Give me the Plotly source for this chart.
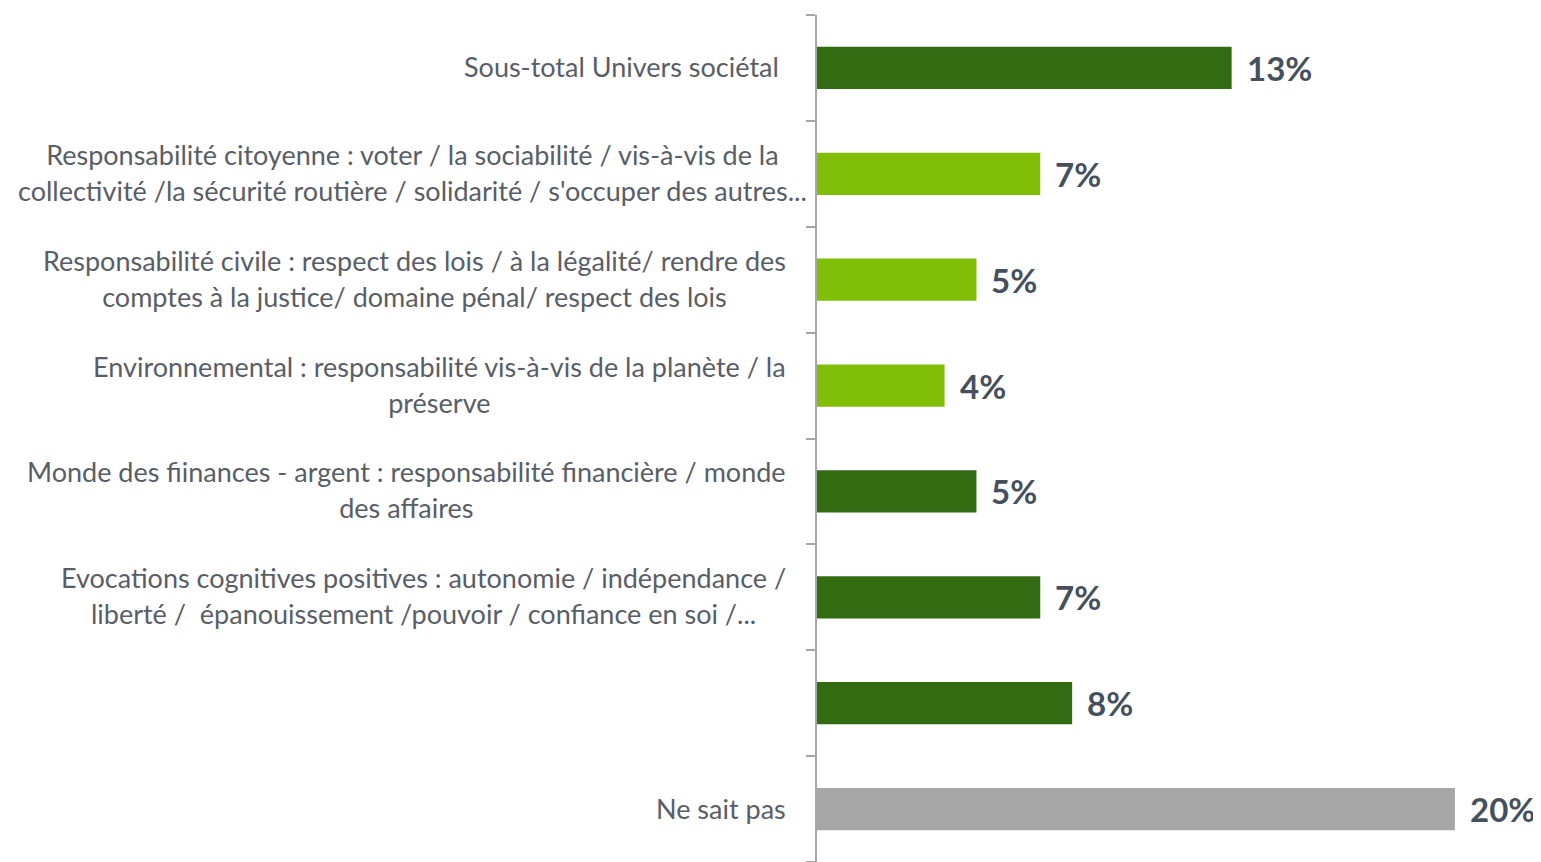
import plotly.graph_objects as go

# Données (de haut en bas)
categories = [
    "Sous-total Univers sociétal",
    "Responsabilité citoyenne : voter / la sociabilité / vis-à-vis de la<br>collectivité /la sécurité routière / solidarité / s'occuper des autres...",
    "Responsabilité civile : respect des lois / à la légalité/ rendre des<br>comptes à la justice/ domaine pénal/ respect des lois",
    "Environnemental : responsabilité vis-à-vis de la planète / la<br>préserve",
    "Monde des fiinances - argent : responsabilité financière / monde<br>des affaires",
    "Evocations cognitives positives : autonomie / indépendance /<br>liberté /  épanouissement /pouvoir / confiance en soi /...",
    "",
    "Ne sait pas",
]
values = [13, 7, 5, 4, 5, 7, 8, 20]
bar_colors = ["#336B12", "#80BE08", "#80BE08", "#80BE08", "#336B12", "#336B12", "#336B12", "#A6A6A6"]
value_labels = ["13%", "7%", "5%", "4%", "5%", "7%", "8%", "20%"]

# clés uniques pour l'axe catégoriel (la 7e étiquette est vide)
keys = [f"c{i}" for i in range(len(categories))]
label_right = [-36, -8, -29, -29, -29, -29, -29, -29]  # décalage px du bord droit des étiquettes

fig = go.Figure(go.Bar(
    x=values,
    y=keys,
    orientation="h",
    marker=dict(color=bar_colors, line=dict(width=0)),
    width=0.4,
    hoverinfo="skip",
))

annotations = []
for i, (k, lab) in enumerate(zip(keys, categories)):
    if not lab:
        continue
    lines = lab.split("<br>")
    common = dict(xref="paper", yref="y", x=0, y=k, xanchor="right", align="center",
                  showarrow=False, xshift=label_right[i],
                  font=dict(family="Lato, sans-serif", size=27, color="#595E66"))
    if len(lines) == 1:
        annotations.append(dict(text=lab, yshift=1, **common))
    else:
        # deux annotations pour ajuster l'interligne tout en gardant le centrage
        hid = "<span style='color:rgba(0,0,0,0)'>{}</span>"
        annotations.append(dict(text=lines[0] + "<br>" + hid.format(lines[1]), yshift=2, **common))
        annotations.append(dict(text=hid.format(lines[0]) + "<br>" + lines[1], yshift=1, **common))

for k, v, t in zip(keys, values, value_labels):
    annotations.append(dict(x=v, y=k, xref="x", yref="y", text=t, showarrow=False,
                            xanchor="left", xshift=13,
                            font=dict(family="Lato, sans-serif", size=33, color="#46505C", weight="bold")))

fig.update_layout(
    width=1533, height=854,
    margin=dict(l=809, r=0, t=7, b=0),
    plot_bgcolor="white", paper_bgcolor="white",
    showlegend=False,
    annotations=annotations,
    xaxis=dict(range=[0, 22.7], visible=False, fixedrange=True),
    yaxis=dict(
        categoryorder="array", categoryarray=keys[::-1],
        range=[-0.5, len(keys) - 0.5],
        showticklabels=False,
        showline=True, linecolor="#A6A6A6", linewidth=1.5,
        ticks="outside", tickson="boundaries", ticklen=9, tickcolor="#A6A6A6", tickwidth=1.5,
        showgrid=False, zeroline=False,
    ),
)

fig.write_html("out.html")
